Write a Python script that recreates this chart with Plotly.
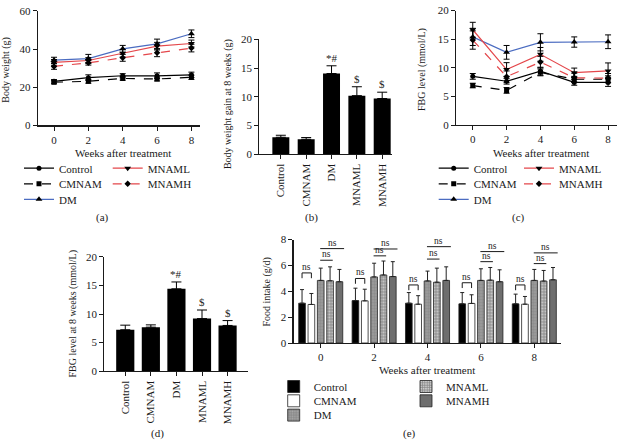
import plotly.graph_objects as go

W, H = 626, 447
FONT = "Liberation Serif, Times New Roman, serif"
INK = "#1a1a1a"

# ---------------- data ----------------
weeks = [0, 2, 4, 6, 8]
groups = ["Control", "CMNAM", "DM", "MNAML", "MNAMH"]

# (a) body weight (g)
bw_control = [23.1, 25.0, 26.0, 26.0, 26.5]
bw_cmnam = [22.6, 23.1, 24.6, 24.3, 25.2]
bw_dm = [34.2, 35.0, 40.1, 42.7, 48.0]
bw_mnaml = [33.0, 34.0, 37.8, 41.5, 42.9]
bw_mnamh = [30.9, 32.8, 35.4, 38.0, 40.5]
bw_control_sd = [0.9, 1.5, 1.1, 1.5, 1.4]
bw_cmnam_sd = [0.8, 1.0, 0.9, 1.0, 1.1]
bw_dm_sd = [1.5, 2.2, 1.8, 2.5, 2.0]
bw_mnaml_sd = [1.5, 1.5, 2.0, 2.0, 1.8]
bw_mnamh_sd = [1.5, 1.2, 1.8, 2.0, 2.0]

# (b) body weight gain at 8 weeks (g)
gain = [2.95, 2.6, 14.05, 10.2, 9.7]
gain_sd = [0.35, 0.3, 1.35, 1.55, 1.1]
gain_sig = ["", "", "*#", "$", "$"]

# (c) FBG level (mmol/L)
fbg_control = [8.5, 7.65, 9.4, 7.45, 7.45]
fbg_cmnam = [6.9, 6.05, 9.2, 8.0, 8.0]
fbg_dm = [15.4, 12.7, 14.45, 14.5, 14.55]
fbg_mnaml = [16.65, 9.7, 12.35, 9.15, 9.45]
fbg_mnamh = [14.85, 8.45, 11.0, 8.25, 8.2]
fbg_control_sd = [0.5, 0.5, 0.7, 0.5, 0.7]
fbg_cmnam_sd = [0.4, 0.5, 0.6, 0.5, 0.6]
fbg_dm_sd = [1.5, 1.2, 1.5, 0.9, 1.2]
fbg_mnaml_sd = [1.3, 1.2, 1.2, 0.8, 1.4]
fbg_mnamh_sd = [1.6, 1.0, 1.0, 0.8, 0.8]

# (d) FBG level at 8 weeks (mmol/L)
fbg8 = [7.25, 7.7, 14.4, 9.2, 8.0]
fbg8_sd = [0.8, 0.4, 1.2, 1.5, 0.85]
fbg8_sig = ["", "", "*#", "$", "$"]

# (e) food intake (g/d)
fi_control = [3.08, 3.28, 3.08, 3.03, 3.03]
fi_cmnam = [2.98, 3.26, 3.0, 3.06, 3.0]
fi_dm = [4.84, 5.11, 4.8, 4.84, 4.84]
fi_mnaml = [4.81, 5.26, 4.7, 4.86, 4.79]
fi_mnamh = [4.74, 5.14, 4.84, 4.74, 4.89]
fi_control_sd = [1.05, 0.96, 0.82, 0.87, 0.75]
fi_cmnam_sd = [0.85, 0.9, 0.66, 0.67, 0.6]
fi_dm_sd = [0.95, 1.06, 0.76, 0.9, 0.85]
fi_mnaml_sd = [1.08, 1.08, 1.09, 0.98, 0.82]
fi_mnamh_sd = [0.95, 1.15, 1.05, 0.92, 0.95]
# "ns" comparison levels per week
ns_pair_level = [5.42, 4.99, 4.49, 4.66, 4.49]
ns_short_level = [6.4, 6.74, 6.49, 6.29, 6.14]
ns_long_level = [7.3, 7.27, 7.45, 7.07, 6.97]

# ---------------- helpers ----------------
def fx(p):
    return p / W


def fy(p):
    return 1 - p / H


fig = go.Figure()

line_style = {
    "Control": dict(color="black", dash="solid", symbol="circle", size=5),
    "CMNAM": dict(color="black", dash="dash", symbol="square", size=5),
    "DM": dict(color="#4b6cc1", dash="solid", symbol="triangle-up", size=6),
    "MNAML": dict(color="#e4474b", dash="solid", symbol="triangle-down", size=6),
    "MNAMH": dict(color="#e4474b", dash="dash", symbol="diamond", size=5),
}

# legend layout (text-left x px, row-centre y px) for each panel
legend_text_x = {"a": (62, 150.7), "c": (476.7, 562), "e": (316.7, 449)}
legend_rows = {"a": (166.7, 182.7, 198.7), "c": (166.7, 182.7, 198.7), "e": (391, 405.7, 420.4)}
legend_slot = {"Control": (0, 0), "CMNAM": (0, 1), "DM": (0, 2), "MNAML": (1, 0), "MNAMH": (1, 1)}
LEG_TEXT_OFFSET = 43

legends = {}
leg_counter = [0]


def new_legend(panel, name):
    leg_counter[0] += 1
    n = leg_counter[0]
    key = "legend" if n == 1 else f"legend{n}"
    col, row = legend_slot[name]
    tx = legend_text_x[panel][col]
    ty = legend_rows[panel][row]
    legends[key] = dict(
        x=fx(tx - LEG_TEXT_OFFSET), y=fy(ty), xanchor="left", yanchor="middle",
        bgcolor="rgba(0,0,0,0)", borderwidth=0, itemwidth=30,
        font=dict(family=FONT, size=11, color=INK),
    )
    return key


def line_panel(panel, xa, ya, series):
    for name, vals, sds in series:
        st = line_style[name]
        fig.add_trace(go.Scatter(
            x=weeks, y=vals, name=name, mode="lines+markers",
            xaxis=xa, yaxis=ya,
            line=dict(color=st["color"], dash=st["dash"], width=1.2),
            marker=dict(color="black", symbol=st["symbol"], size=st["size"]),
            error_y=dict(type="data", array=sds, color="black", thickness=1, width=3),
            legend=new_legend(panel, name), showlegend=True,
        ))


line_panel("a", "x", "y", [
    ("Control", bw_control, bw_control_sd),
    ("CMNAM", bw_cmnam, bw_cmnam_sd),
    ("DM", bw_dm, bw_dm_sd),
    ("MNAML", bw_mnaml, bw_mnaml_sd),
    ("MNAMH", bw_mnamh, bw_mnamh_sd),
])
line_panel("c", "x3", "y3", [
    ("Control", fbg_control, fbg_control_sd),
    ("CMNAM", fbg_cmnam, fbg_cmnam_sd),
    ("DM", fbg_dm, fbg_dm_sd),
    ("MNAML", fbg_mnaml, fbg_mnaml_sd),
    ("MNAMH", fbg_mnamh, fbg_mnamh_sd),
])

annotations = []


def single_bar_panel(xa, ya, vals, sds, sig, width):
    fig.add_trace(go.Bar(
        x=groups, y=vals, xaxis=xa, yaxis=ya, width=width, showlegend=False,
        marker=dict(color="black", line=dict(color="black", width=0)),
        error_y=dict(type="data", array=sds, arrayminus=[0] * len(sds), symmetric=False,
                     color="black", thickness=1, width=5),
    ))
    for g, v, s, t in zip(groups, vals, sds, sig):
        if t:
            annotations.append(dict(
                x=g, y=v + s, xref=xa, yref=ya, text=t, showarrow=False,
                yanchor="middle", yshift=8, font=dict(family=FONT, size=11, color=INK),
            ))


single_bar_panel("x2", "y2", gain, gain_sd, gain_sig, 0.67)
single_bar_panel("x4", "y4", fbg8, fbg8_sd, fbg8_sig, 0.71)

# (e) grouped bars
bar_w = 0.25
bar_step = 0.35
fi_series = [
    ("Control", fi_control, fi_control_sd, dict(color="black")),
    ("CMNAM", fi_cmnam, fi_cmnam_sd, dict(color="white")),
    ("DM", fi_dm, fi_dm_sd, dict(color="#8a8a8a", pattern=dict(shape=".", fgcolor="#c4c4c4", size=3, solidity=0.35))),
    ("MNAML", fi_mnaml, fi_mnaml_sd, dict(color="white", pattern=dict(shape=".", fgcolor="#111111", size=3, solidity=0.75))),
    ("MNAMH", fi_mnamh, fi_mnamh_sd, dict(color="#6e6e6e")),
]
for k, (name, vals, sds, mk) in enumerate(fi_series):
    centre = (k - 2) * bar_step
    mk = dict(mk)
    mk["line"] = dict(color="#222222", width=0.8)
    fig.add_trace(go.Bar(
        x=weeks, y=vals, name=name, xaxis="x5", yaxis="y5",
        width=bar_w, offset=centre - bar_w / 2, marker=mk,
        error_y=dict(type="data", array=sds, arrayminus=[0] * len(sds), symmetric=False,
                     color="#222222", thickness=1, width=2),
        legend=new_legend("e", name), showlegend=True,
    ))

shapes = []
tick_drop = 0.41
ns_font = dict(family=FONT, size=9.5, color=INK)
for w, lp, ls, ll in zip(weeks, ns_pair_level, ns_short_level, ns_long_level):
    x0 = w - 2 * bar_step
    x1 = w - bar_step
    shapes.append(dict(type="path", xref="x5", yref="y5",
                       path=f"M {x0},{lp - tick_drop} L {x0},{lp} L {x1},{lp} L {x1},{lp - tick_drop}",
                       line=dict(color=INK, width=1)))
    annotations.append(dict(x=(x0 + x1) / 2, y=lp, xref="x5", yref="y5", text="ns",
                            showarrow=False, yanchor="bottom", yshift=-1, font=ns_font))
    s0, s1 = w - 0.02, w + bar_step + 0.1
    shapes.append(dict(type="line", xref="x5", yref="y5", x0=s0, x1=s1, y0=ls, y1=ls,
                       line=dict(color=INK, width=1)))
    annotations.append(dict(x=(s0 + s1) / 2, y=ls, xref="x5", yref="y5", text="ns",
                            showarrow=False, yanchor="bottom", yshift=-1, font=ns_font))
    l0, l1 = w - 0.02, w + 2 * bar_step + bar_w / 2 + 0.05
    shapes.append(dict(type="line", xref="x5", yref="y5", x0=l0, x1=l1, y0=ll, y1=ll,
                       line=dict(color=INK, width=1)))
    annotations.append(dict(x=(l0 + l1) / 2, y=ll, xref="x5", yref="y5", text="ns",
                            showarrow=False, yanchor="bottom", yshift=-1, font=ns_font))

# ---------------- text labels ----------------
def text_at(px, py, text, size=11, angle=0):
    annotations.append(dict(x=fx(px), y=fy(py), xref="paper", yref="paper", text=text,
                            showarrow=False, xanchor="center", yanchor="middle",
                            textangle=angle, font=dict(family=FONT, size=size, color=INK)))


text_at(6.5, 66, "Body weight (g)", 10, -90)
text_at(228.3, 100.5, "Body weight gain at 8 weeks (g)", 10, -90)
text_at(422.7, 65, "FBG level (mmol/L)", 10, -90)
text_at(73.3, 316.7, "FBG level at 8 weeks (mmol/L)", 10, -90)
text_at(267.5, 294, "Food intake (g/d)", 10, -90)
text_at(123, 150.7, "Weeks after treatment", 11)
text_at(541, 150.7, "Weeks after treatment", 11)
text_at(427.3, 374.3, "Weeks after treatment", 11)
text_at(102, 217, "(a)", 11)
text_at(311, 217, "(b)", 11)
text_at(518, 217, "(c)", 11)
text_at(157, 439.5, "(d)", 11)
text_at(409, 439.5, "(e)", 11)

# ---------------- axes ----------------
def axis(dom, rng, **kw):
    d = dict(domain=dom, range=rng, showline=True, linecolor=INK, linewidth=1.1,
             ticks="outside", ticklen=4, tickwidth=1, tickcolor=INK, showgrid=False,
             zeroline=False, fixedrange=True,
             tickfont=dict(family=FONT, size=11, color=INK))
    d.update(kw)
    return d


layout = dict(
    width=W, height=H, margin=dict(l=0, r=0, t=0, b=0),
    paper_bgcolor="white", plot_bgcolor="white", showlegend=True,
    barmode="overlay", hovermode=False,
    font=dict(family=FONT, size=11, color=INK),
    xaxis=axis([fx(37.7), fx(200)], [-0.95, 8.5], anchor="y", tickvals=weeks),
    yaxis=axis([fy(122.7), fy(5)], [0, 60], anchor="x", tickvals=[0, 20, 40, 60]),
    xaxis2=axis([fx(259.3), fx(391.7)], [-0.85, 4.375], anchor="y2", type="category",
                tickangle=-90),
    yaxis2=axis([fy(152.3), fy(34.3)], [0, 20], anchor="x2", tickvals=[0, 5, 10, 15, 20]),
    xaxis3=axis([fx(456), fx(616.7)], [-0.99, 8.51], anchor="y3", tickvals=weeks),
    yaxis3=axis([fy(122.3), fy(4.7)], [0, 20], anchor="x3", tickvals=[0, 5, 10, 15, 20]),
    xaxis4=axis([fx(104.3), fx(248.3)], [-0.82, 4.81], anchor="y4", type="category",
                tickangle=-90),
    yaxis4=axis([fy(375.3), fy(257.7)], [0, 20], anchor="x4", tickvals=[0, 5, 10, 15, 20]),
    xaxis5=axis([fx(293.5), fx(561)], [-1.02, 9.0], anchor="y5", tickvals=weeks),
    yaxis5=axis([fy(346.3), fy(240)], [0, 8], anchor="x5", tickvals=[0, 2, 4, 6, 8]),
    annotations=annotations,
    shapes=shapes,
)
layout.update(legends)
fig.update_layout(**layout)

fig.write_html(
    "out.html",
    config={"displayModeBar": False, "staticPlot": True},
    post_script="document.body.style.margin='0';document.body.style.padding='0';document.body.style.overflow='hidden';",
)
